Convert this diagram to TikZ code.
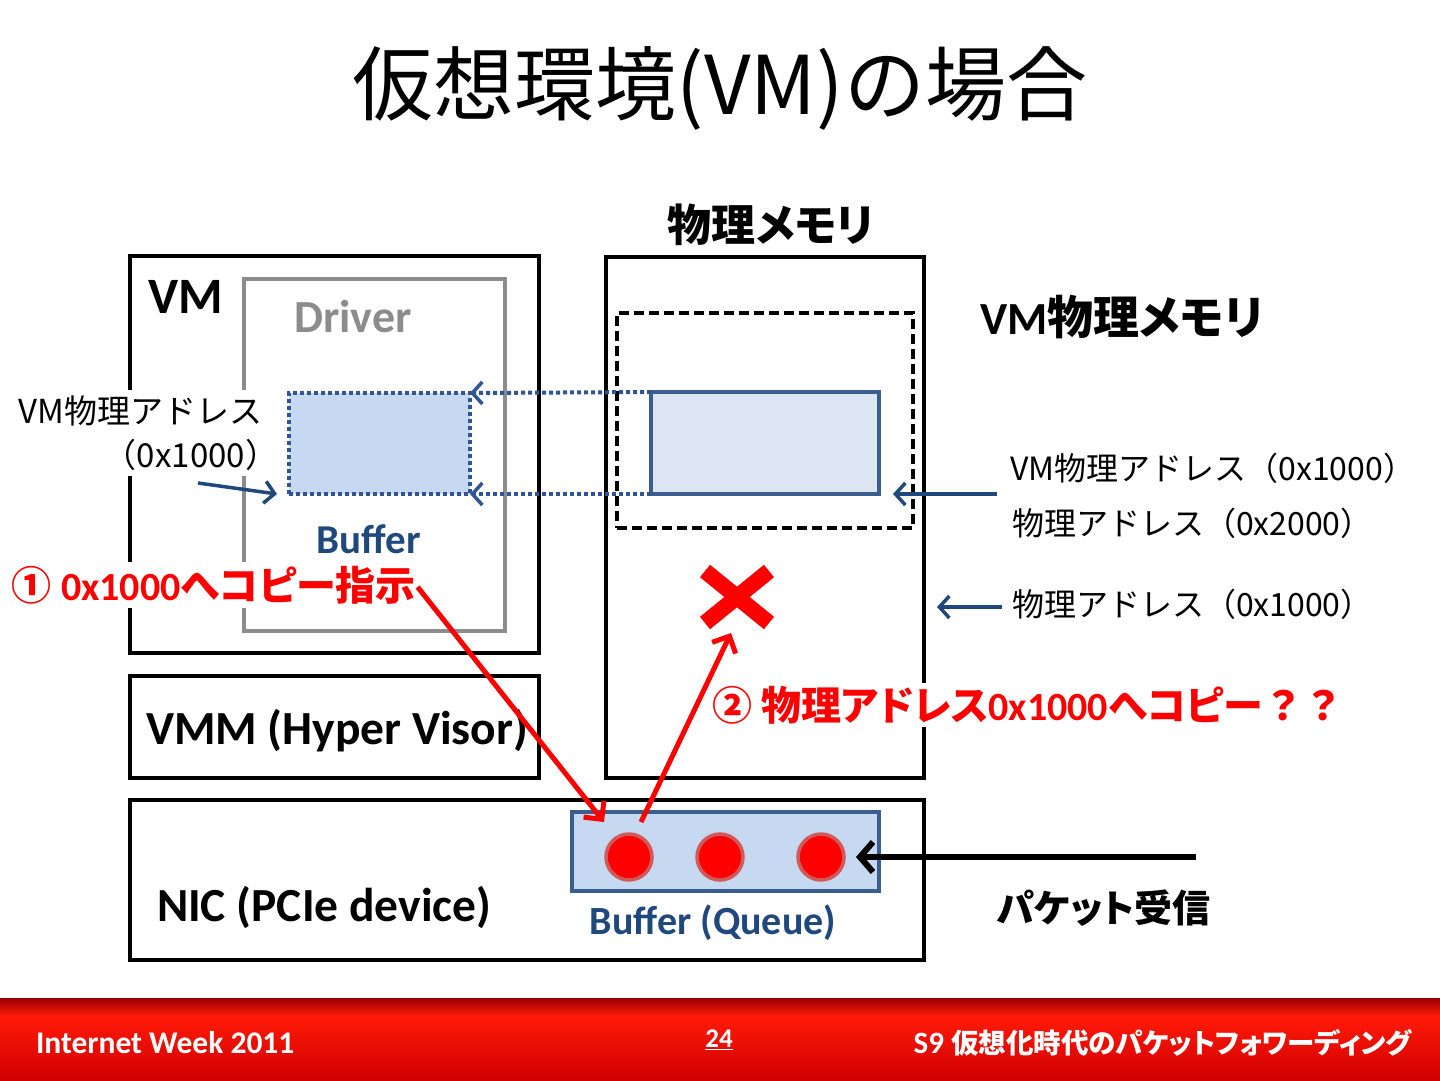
\documentclass[tikz,border=0pt]{standalone}
\usepackage{fontspec}
\setmainfont{Carlito}
\newfontfamily\cjk[RawFeature=+palt]{Noto Sans CJK JP}
\newfontfamily\cjkf{Noto Sans CJK JP}
\usetikzlibrary{arrows.meta}
\definecolor{navy}{HTML}{1F497D}
\definecolor{boxblue}{HTML}{3A5F8F}
\definecolor{lblue}{HTML}{C6D9F1}
\definecolor{pblue}{HTML}{DCE6F2}
\definecolor{dotblue}{HTML}{2F5597}
\definecolor{drvgray}{HTML}{8C8C8C}
\definecolor{circborder}{HTML}{D05A5A}
\definecolor{ftdark}{HTML}{9A0000}
\definecolor{ftbright}{HTML}{FF1A08}
\definecolor{ftbottom}{HTML}{D00000}
\newcommand\fs[1]{\fontsize{#1}{#1}\selectfont}
\tikzset{
  blkbox/.style={draw=black, line width=3.5pt, inner sep=0pt, anchor=north west},
  bluearr/.style={-{Straight Barb[length=10pt,width=22pt,line width=3.5pt]}, draw=navy, line width=3.5pt},
  redarr/.style={-{Straight Barb[length=13pt,width=26pt,line width=5pt]}, draw=red, line width=5pt},
  dotarr/.style={-{Straight Barb[length=10pt,width=22pt,line width=3.5pt,sep=0pt]}, draw=dotblue, line width=4pt, dash pattern=on 4pt off 3pt},
  lab/.style={inner sep=0pt},
}
\begin{document}
\begin{tikzpicture}[x=1pt,y=-1pt,outer sep=0pt]
\useasboundingbox (0,0) rectangle (1440,1080);
\fill[white] (0,0) rectangle (1440,1080);

% title
\node[lab] (title) at (720,88) {\cjkf\fs{81}仮想環境(VM)の場合};

% boxes
\node[blkbox, minimum width=409pt, minimum height=397pt] (vm) at (130,256) {};
\node[draw=drvgray, line width=3.5pt, inner sep=0pt, anchor=north west, minimum width=261pt, minimum height=352pt] (drv) at (244,279) {};
\node[blkbox, minimum width=409pt, minimum height=102pt] (vmm) at (130,676) {};
\node[blkbox, minimum width=318pt, minimum height=521pt] (pmem) at (606,257) {};
\node[draw=black, line width=3.5pt, dash pattern=on 10pt off 5pt, inner sep=0pt, anchor=north west, minimum width=296pt, minimum height=215pt] (vmem) at (617,313) {};
\node[blkbox, minimum width=794pt, minimum height=160pt] (nic) at (130,800) {};

% buffers
\node[fill=lblue, draw=dotblue, line width=4pt, dash pattern=on 4pt off 3pt, inner sep=0pt, anchor=north west, minimum width=181pt, minimum height=101pt] (vbuf) at (289,393) {};
\node[fill=pblue, draw=boxblue, line width=3.5pt, inner sep=0pt, anchor=north west, minimum width=228pt, minimum height=102pt] (pbuf) at (651,392) {};
\node[fill=lblue, draw=boxblue, line width=3.5pt, inner sep=0pt, anchor=north west, minimum width=307pt, minimum height=79pt] (qbuf) at (572,812) {};

% circles
\foreach \n/\x in {c1/629,c2/720,c3/821}
  \node[circle, fill=red, draw=circborder, line width=3.5pt, minimum size=46pt, inner sep=0pt] (\n) at (\x,857) {};

% texts
\node[lab] (vmt) at (186,297) {\bfseries\fs{51}VM};
\node[lab, text=drvgray] (drvt) at (353,317) {\bfseries\fs{46}Driver};
\node[lab, text=navy] (buft) at (369,539) {\bfseries\fs{41}Buffer};
\node[lab, anchor=center] (pmemt) at (771,225) {\cjk\bfseries\fs{44}物理メモリ};
\node[lab, anchor=west] (vmemt) at (980,317) {\bfseries\fs{46}VM{\cjk 物理メモリ}};
\node[lab, anchor=west] (vmmt) at (146,731) {\bfseries\fs{47.5}VMM (Hyper Visor)};
\node[lab, anchor=west] (nict) at (157,907) {\bfseries\fs{47.5}NIC (PCIe device)};
\node[lab, text=navy] (qbuft) at (713,923) {\bfseries\fs{40}Buffer (Queue)};
\node[lab, anchor=west] (pktt) at (997,908) {\cjk\bfseries\fs{38}パケット受信};

\node[anchor=east, fill=white, inner xsep=4pt, inner ysep=6pt, align=right] (vmaddr) at (266,433)
  {\cjkf\fs{33}VM物理アドレス\\[12pt]\cjkf\fs{33}（0x1000）\kern-16pt};

\node[lab, anchor=west] (r1) at (1010,468) {\cjkf\fs{32}VM物理アドレス（0x1000）};
\node[lab, anchor=west] (r2) at (1012,523) {\cjkf\fs{32}物理アドレス（0x2000）};
\node[lab, anchor=west] (r3) at (1012,604) {\cjkf\fs{32}物理アドレス（0x1000）};

\node[lab, anchor=west, fill=white, inner sep=4pt, text=red] (lab1) at (8,585) {\bfseries\fs{40}{\cjk ①} 0x1000{\cjk へコピー指示}};
\node[lab, anchor=west, fill=white, inner sep=3pt, text=red] (lab2) at (709,705) {\bfseries\fs{40}{\cjk ② 物理アドレス}0x1000{\cjk へコピー}{\cjkf ？？}};

% X mark
\node[lab, minimum width=64pt, minimum height=52pt] (xmark) at (737,597) {};
\draw[red, line width=16pt] (xmark.north west) -- (xmark.south east);
\draw[red, line width=16pt] (xmark.north east) -- (xmark.south west);

% connectors
\draw[dotarr] (pbuf.north west) -- (vbuf.north east);
\draw[dotarr] (pbuf.south west) -- (vbuf.south east);
\coordinate (la) at (198,483);
\draw[bluearr] (la) -- ([shift={(-12,0)}]vbuf.south west);
\coordinate (ra) at (997,494);
\draw[bluearr] (ra) -- ([shift={(14,0)}]pbuf.south east);
\coordinate (rb) at (1002,607);
\draw[bluearr] (rb) -- ([shift={(13,0)}]pmem.east |- rb);
\coordinate (pk) at (1196,857);
\draw[-{Straight Barb[length=13pt,width=30pt,line width=6pt]}, line width=6pt] (pk) -- ([shift={(12,0)}]c3.east);
\draw[redarr] ([shift={(-2,2)}]lab1.east) -- ([shift={(-25,-35)}]c1.center);
\draw[redarr] ([shift={(12,-35)}]c1.center) -- ([shift={(-6,10)}]xmark.south);

% footer
\shade[top color=ftdark, bottom color=ftbright] (0,998) rectangle (1440,1016);
\shade[top color=ftbright, bottom color=ftbottom] (0,1016) rectangle (1440,1080);
\node[lab, anchor=west, text=white] (ft1) at (36,1043) {\bfseries\fs{31.5}Internet Week 2011};
\node[lab, text=white] (ft2) at (719,1040) {\bfseries\fs{27}\underline{24}};
\node[lab, anchor=east, text=white] (ft3) at (1412,1043) {\bfseries\fs{31}S9 {\cjk\fs{27.5}仮想化時代のパケットフォワーディング}};
\end{tikzpicture}
\end{document}
